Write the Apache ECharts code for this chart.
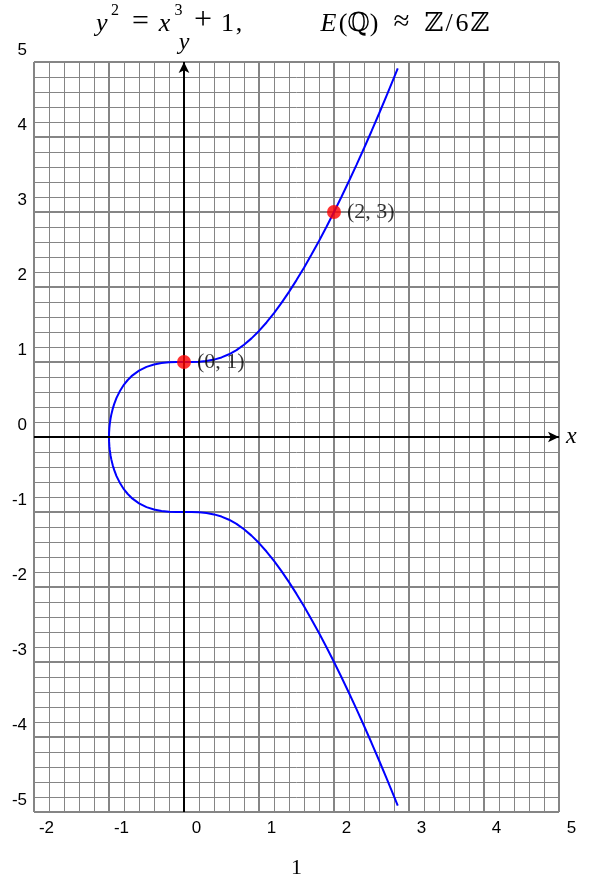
<!DOCTYPE html>
<html>
<head>
<meta charset="utf-8">
<script src="https://cdn.jsdelivr.net/npm/echarts@6/dist/echarts.min.js"></script>
<style>
html,body{margin:0;padding:0;background:#fff;}
#chart{width:602px;height:886px;}
</style>
</head>
<body>
<div id="chart"></div>
<script>
// ---- data ----
const xTicks = [-2, -1, 0, 1, 2, 3, 4, 5];
const xTickLabels = ['-2', '-1', '0', '1', '2', '3', '4', '5'];
const yTicks = [-5, -4, -3, -2, -1, 0, 1, 2, 3, 4, 5];
const yTickLabels = ['-5', '-4', '-3', '-2', '-1', '0', '1', '2', '3', '4', '5'];

// points along y^2 = x^3 + 1 (upper branch, then lower branch)
const curveX = [
  2.85, 2.8, 2.7, 2.6, 2.5, 2.4, 2.3, 2.2, 2.1, 2.0, 1.9, 1.8, 1.7, 1.6, 1.5, 1.4, 1.3, 1.2, 1.1, 1.0,
  0.9, 0.8, 0.7, 0.6, 0.5, 0.4, 0.3, 0.2, 0.1, 0, -0.1, -0.2, -0.3, -0.4, -0.5, -0.6, -0.7, -0.75, -0.8,
  -0.85, -0.9, -0.93, -0.95, -0.97, -0.98, -0.99, -0.995, -0.999, -1,
  -0.999, -0.995, -0.99, -0.98, -0.97, -0.95, -0.93, -0.9, -0.85, -0.8, -0.75, -0.7, -0.6, -0.5, -0.4,
  -0.3, -0.2, -0.1, 0, 0.1, 0.2, 0.3, 0.4, 0.5, 0.6, 0.7, 0.8, 0.9, 1.0, 1.1, 1.2, 1.3, 1.4, 1.5, 1.6,
  1.7, 1.8, 1.9, 2.0, 2.1, 2.2, 2.3, 2.4, 2.5, 2.6, 2.7, 2.8, 2.85
];
const curveY = [
  4.914, 4.791, 4.548, 4.310, 4.077, 3.850, 3.629, 3.413, 3.203, 3.000, 2.803, 2.614, 2.432, 2.257, 2.092, 1.935, 1.788, 1.652, 1.527, 1.414,
  1.315, 1.230, 1.159, 1.103, 1.061, 1.032, 1.013, 1.004, 1.000, 1.000, 1.000, 0.996, 0.986, 0.967, 0.935, 0.885, 0.811, 0.760, 0.699,
  0.621, 0.521, 0.442, 0.378, 0.295, 0.242, 0.172, 0.122, 0.055, 0,
  -0.055, -0.122, -0.172, -0.242, -0.295, -0.378, -0.442, -0.521, -0.621, -0.699, -0.760, -0.811, -0.885, -0.935, -0.967,
  -0.986, -0.996, -1.000, -1.000, -1.000, -1.004, -1.013, -1.032, -1.061, -1.103, -1.159, -1.230, -1.315, -1.414, -1.527, -1.652, -1.788, -1.935, -2.092, -2.257,
  -2.432, -2.614, -2.803, -3.000, -3.203, -3.413, -3.629, -3.850, -4.077, -4.310, -4.548, -4.791, -4.914
];

const pointX = [0, 2];
const pointY = [1, 3];
const pointLabels = ['(0, 1)', '(2, 3)'];

const axisLineX = [-2, 5];
const axisLineY = [-5, 5];
const axisNames = ['x', 'y'];

// ---- chart ----
const chart = echarts.init(document.getElementById('chart'));
const gridColor = '#858585';
const serif = '"Liberation Serif", "DejaVu Serif", serif';

function tok(w, extra) {
  return Object.assign({
    fontFamily: serif, fontSize: 26, fontWeight: 'normal', lineHeight: 34,
    verticalAlign: 'bottom', align: 'center', width: w, color: '#000'
  }, extra || {});
}
function sup(w) {
  return {fontFamily: serif, fontSize: 16, fontWeight: 'normal', lineHeight: 16,
    verticalAlign: 'top', align: 'left', width: w, color: '#000'};
}

const option = {
  animation: false,
  backgroundColor: '#ffffff',
  title: [
    {
      text: '{y|y}{s2|2}{eq|=}{x|x}{s3|3}{pl|+}{one|1}{cm|,}',
      left: 96, top: 3, padding: 0,
      textStyle: {
        fontWeight: 'normal',
        rich: {
          y: tok(15, {fontStyle: 'italic', align: 'left'}),
          s2: sup(13),
          eq: tok(33, {fontSize: 30}),
          x: tok(15, {fontStyle: 'italic', align: 'left'}),
          s3: sup(13),
          pl: tok(36, {fontSize: 32}),
          one: tok(13),
          cm: tok(10)
        }
      }
    },
    {
      text: '{e|E}{lp|(}{q|ℚ}{rp|)}{ap|≈}{z1|ℤ}{sl|/}{six|6}{z2|ℤ}',
      left: 318, top: 3, padding: 0,
      textStyle: {
        fontWeight: 'normal',
        rich: {
          e: tok(21, {fontStyle: 'italic'}),
          lp: tok(8),
          q: tok(23),
          rp: tok(8),
          ap: tok(47, {fontSize: 29}),
          z1: tok(18),
          sl: tok(12),
          six: tok(14),
          z2: tok(22)
        }
      }
    }
  ],
  grid: {left: 34, right: 43, top: 62, bottom: 74, show: false},
  xAxis: {
    type: 'value', min: xTicks[0], max: xTicks[xTicks.length - 1], interval: 1,
    axisLine: {show: false}, axisTick: {show: false},
    axisLabel: {
      show: true, showMinLabel: true, showMaxLabel: true,
      margin: 8, padding: [0, 0, 0, 25],
      fontFamily: '"Liberation Sans", Arial, sans-serif', fontSize: 17, color: '#000',
      formatter: v => { const k = xTicks.indexOf(v); return k >= 0 ? xTickLabels[k] : ''; }
    },
    splitLine: {show: true, lineStyle: {color: gridColor, width: 2}},
    minorTick: {show: false, splitNumber: 5},
    minorSplitLine: {show: true, lineStyle: {color: gridColor, width: 1}}
  },
  yAxis: {
    type: 'value', min: yTicks[0], max: yTicks[yTicks.length - 1], interval: 1,
    axisLine: {show: false}, axisTick: {show: false},
    axisLabel: {
      show: true, showMinLabel: true, showMaxLabel: true,
      margin: 7, align: 'right', verticalAlign: 'bottom', lineHeight: 24,
      fontFamily: '"Liberation Sans", Arial, sans-serif', fontSize: 17, color: '#000',
      formatter: v => { const k = yTicks.indexOf(v); return k >= 0 ? yTickLabels[k] : ''; }
    },
    splitLine: {show: true, lineStyle: {color: gridColor, width: 2}},
    minorTick: {show: false, splitNumber: 5},
    minorSplitLine: {show: true, lineStyle: {color: gridColor, width: 1}}
  },
  series: [
    {
      type: 'line', data: [], clip: false, silent: true,
      markLine: {
        silent: true, animation: false,
        symbol: ['none', 'arrow'], symbolSize: [8, 11],
        lineStyle: {color: '#000', width: 2, type: 'solid'},
        label: {
          show: true, position: 'end', distance: 7,
          fontFamily: serif, fontStyle: 'italic', fontSize: 24, color: '#000',
          formatter: p => p.name
        },
        emphasis: {disabled: true},
        data: [
          [{coord: [axisLineX[0], 0], name: axisNames[0]}, {coord: [axisLineX[1], 0], name: axisNames[0]}],
          [{coord: [0, axisLineY[0]], name: axisNames[1]}, {coord: [0, axisLineY[1]], name: axisNames[1]}]
        ]
      },
      z: 3
    },
    {
      type: 'line', showSymbol: false, silent: true, clip: false,
      data: curveX.map((x, i) => [x, curveY[i]]),
      lineStyle: {color: '#0000ff', width: 2},
      z: 4
    },
    {
      type: 'scatter', symbolSize: 14, silent: true,
      itemStyle: {color: '#ff0000'},
      data: pointX.map((x, i) => ({value: [x, pointY[i]], name: pointLabels[i]})),
      label: {
        show: true, position: 'right', distance: 6,
        fontFamily: serif, fontSize: 22, color: '#000',
        formatter: p => p.name
      },
      z: 5
    }
  ],
  graphic: [
    {
      type: 'text', left: 291, top: 857,
      style: {text: '1', fontFamily: serif, fontSize: 22, fill: '#000'}
    }
  ]
};
chart.setOption(option);
</script>
</body>
</html>
